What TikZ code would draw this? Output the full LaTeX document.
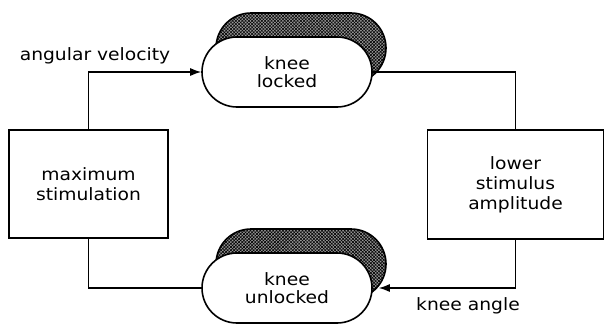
\documentclass[tikz,border=0pt]{standalone}
\usepackage{fontspec}
\newfontfamily\labfont[FakeStretch=1.1]{DejaVu Sans}
\usetikzlibrary{shapes.misc,arrows.meta,patterns.meta,calc}
\tikzset{
  lab/.style={font=\labfont\fontsize{17}{20}\selectfont, align=center, inner sep=0pt},
  blockbox/.style={draw, line width=1.6pt, rectangle, inner sep=0pt, lab},
  stadium/.style={rounded rectangle, draw, line width=1.6pt, inner sep=0pt,
    minimum width=170pt, minimum height=70pt},
  frontst/.style={stadium, fill=white, lab, font=\labfont\fontsize{17}{18.3}\selectfont},
  shadowst/.style={stadium, fill=black!40,
    postaction={pattern={Lines[angle=45,distance=2.3pt,line width=0.6pt]}},
    postaction={pattern={Lines[angle=-45,distance=2.3pt,line width=0.6pt]}}},
  conn/.style={line width=1.3pt},
  tip/.style={-{Latex[length=11pt,width=8pt]}}
}
\begin{document}
\begin{tikzpicture}[x=1pt,y=-1pt]
\useasboundingbox (0,0) rectangle (605,325);
% boxes
\node[blockbox, minimum width=159pt, minimum height=108pt] (maxst) at (88.5,184) {maximum\\stimulation};
\node[blockbox, minimum width=176pt, minimum height=109pt] (lower) at (515.5,184.5) {lower\\stimulus\\amplitude};
% stadia with shadows
\node[shadowst] (shL) at (301,48) {};
\node[frontst] (kneeL) at (287,72) {knee\\locked};
\node[shadowst] (shU) at (301,264) {};
\node[frontst] (kneeU) at (287,288) {knee\\unlocked};
% connectors
\coordinate (tipU) at ($(kneeU.east)+(6,0)$);
\draw[conn, tip] (maxst.north) |- (kneeL.west);
\draw[conn] (lower.north) |- (kneeL.east);
\draw[conn, tip] (lower.south) |- (tipU);
\draw[conn] (maxst.south) |- (kneeU.west);
% labels
\node[lab, anchor=base] (lav) at (95,60) {angular velocity};
\node[lab, anchor=base] (lka) at (468,310) {knee angle};
\end{tikzpicture}
\end{document}
